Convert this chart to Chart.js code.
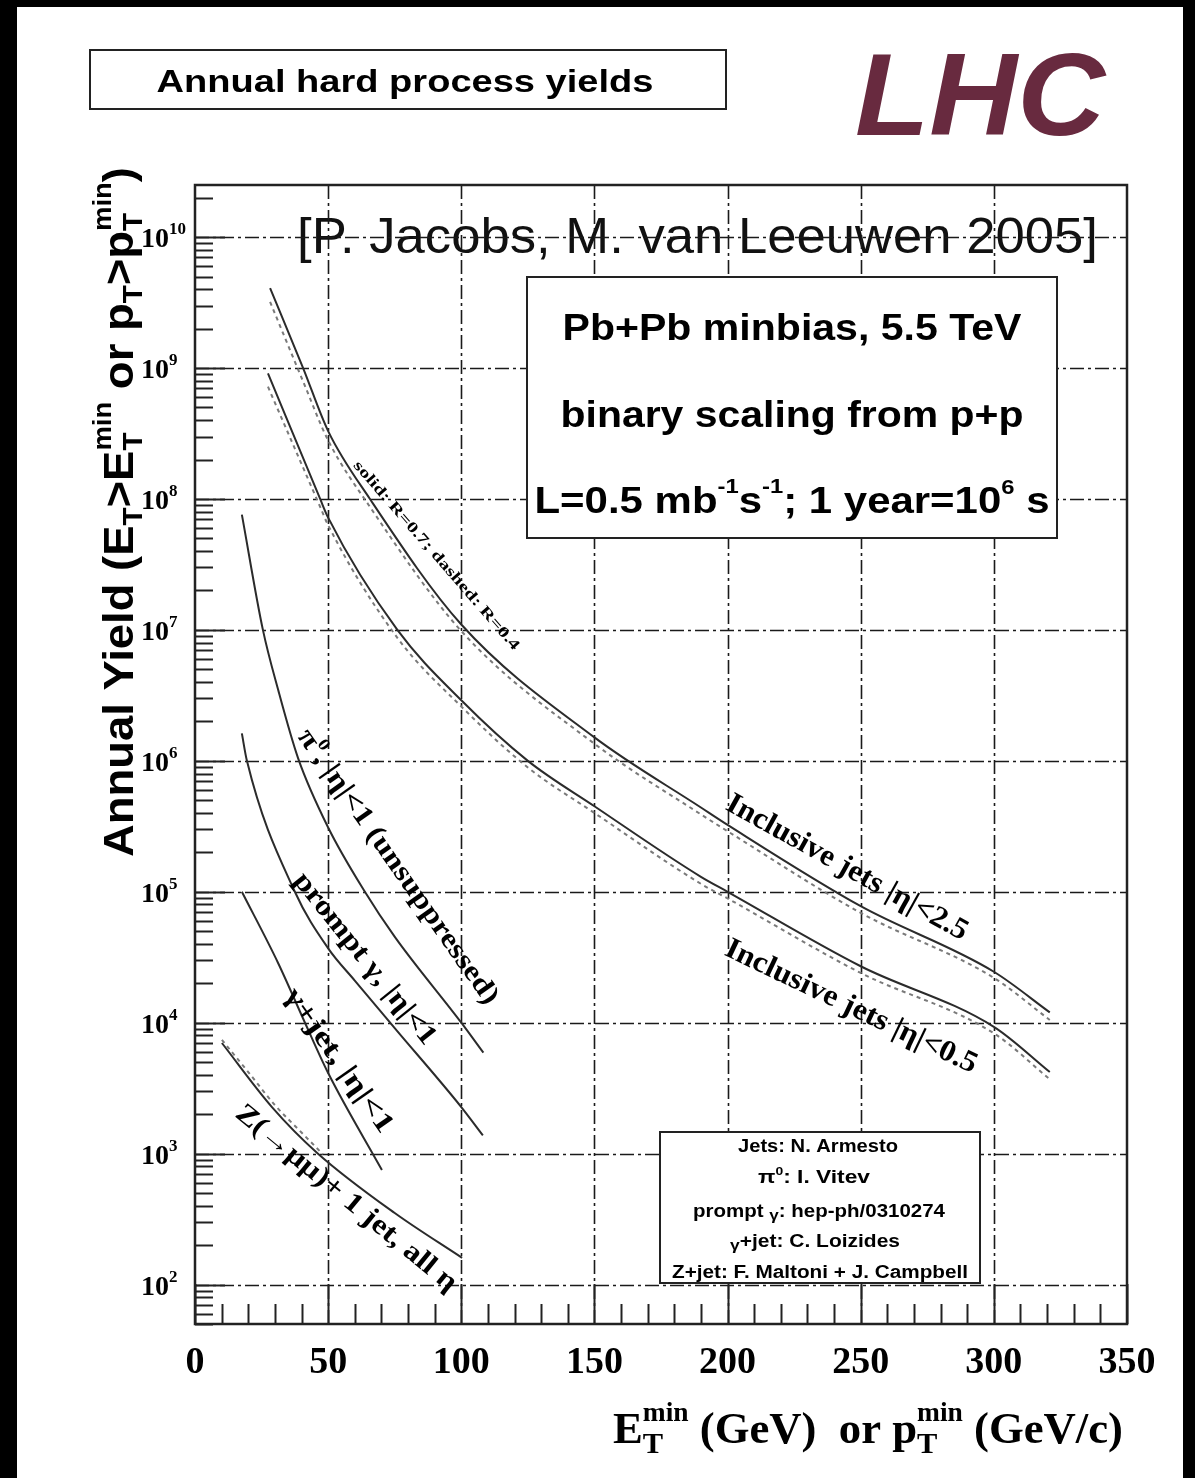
<!DOCTYPE html>
<html><head><meta charset="utf-8">
<script src="https://cdn.jsdelivr.net/npm/chart.js@4.4.1/dist/chart.umd.min.js"></script>
<style>html,body{margin:0;padding:0;background:#fff;}canvas{display:block;}</style>
</head><body>
<canvas id="c" width="1195" height="1478"></canvas>
<script>
// ---------------- data ----------------
const xTickValues = [0, 50, 100, 150, 200, 250, 300, 350];
const yDecadeExponents = [2, 3, 4, 5, 6, 7, 8, 9, 10];

// Inclusive jets |eta|<2.5
const jets25X      = [28.2, 40.6, 50, 65.7, 100, 150, 190, 200, 250, 300, 321];
const jets25R07    = [4.07e9, 1.0e9, 3.3e8, 1.0e8, 1.1e7, 1.51e6, 4.4e5, 3.24e5, 7.76e4, 2.45e4, 1.2e4];
const jets25R04    = [3.2e9, 7.9e8, 2.8e8, 8.7e7, 9.8e6, 1.35e6, 3.9e5, 2.9e5, 6.9e4, 2.2e4, 1.05e4];
// Inclusive jets |eta|<0.5
const jets05X      = [27.4, 47, 50, 76, 100, 125, 150, 190, 200, 250, 300, 321];
const jets05R07    = [9.1e8, 1.0e8, 7.2e7, 1.0e7, 2.9e6, 1.0e6, 4.5e5, 1.3e5, 1.0e5, 2.7e4, 9.3e3, 4.2e3];
const jets05R04    = [7.2e8, 8.7e7, 6.3e7, 8.7e6, 2.6e6, 8.9e5, 4.0e5, 1.15e5, 8.9e4, 2.4e4, 8.3e3, 3.7e3];
// pi0 |eta|<1 (unsuppressed)
const pi0X         = [17.6, 25.5, 31.2, 38.7, 50, 63.8, 75.1, 100, 108.3];
const pi0Y         = [7.6e7, 1.0e7, 3.5e6, 1.05e6, 3.1e5, 1.0e5, 4.5e4, 1.0e4, 5.9e3];
// prompt photon |eta|<1
const promptX      = [17.6, 19.5, 37.5, 50, 60, 75, 100, 108.1];
const promptY      = [1.62e6, 1.0e6, 1.0e5, 3.7e4, 2.1e4, 9.1e3, 2.27e3, 1.38e3];
// gamma + jet |eta|<1
const gjetX        = [17.6, 31.2, 41.3, 50, 70.2];
const gjetY        = [1.0e5, 2.86e4, 1.0e4, 4.13e3, 750];
// Z(->mumu) + 1 jet, all eta
const zjetX        = [10.1, 28.9, 46.2, 75, 100.3];
const zjetY        = [7.0e3, 2.27e3, 1.0e3, 352, 160];
const zjetAltX     = [10.1, 20, 30, 40, 48];
const zjetAltY     = [7.4e3, 4.2e3, 2.35e3, 1.45e3, 990];

// ---------------- helpers ----------------
const SANS = '"Liberation Sans", Arial, Helvetica, sans-serif';
const SERIF = '"Liberation Serif", "Times New Roman", Times, serif';

function drawRich(ctx, segs, x, y, o = {}) {
  const align = o.align || 'left', angle = o.angle || 0;
  ctx.save();
  ctx.translate(x, y);
  if (angle) ctx.rotate(angle);
  const items = segs.map(s => {
    if (s.stack) {
      const ws = s.stack.map(p => { ctx.font = p.f; return ctx.measureText(p.t).width; });
      return { w: Math.max(...ws) };
    }
    ctx.font = s.f;
    return { w: ctx.measureText(s.t).width };
  });
  const total = items.reduce((a, b) => a + b.w, 0);
  const sx = o.width ? o.width / total : 1;
  ctx.scale(sx, 1);
  let cx = align === 'left' ? 0 : (align === 'center' ? -total / 2 : -total);
  const dy0 = o.dy || 0;
  ctx.textAlign = 'left';
  ctx.textBaseline = 'alphabetic';
  ctx.fillStyle = o.color || '#000';
  segs.forEach((s, i) => {
    if (s.stack) {
      s.stack.forEach(p => { ctx.font = p.f; ctx.fillText(p.t, cx, (p.dy || 0) + dy0); });
    } else {
      ctx.font = s.f;
      ctx.fillText(s.t, cx, (s.dy || 0) + dy0);
    }
    cx += items[i].w;
  });
  ctx.restore();
}
function line(ctx, x1, y1, x2, y2) { ctx.beginPath(); ctx.moveTo(x1, y1); ctx.lineTo(x2, y2); ctx.stroke(); }

function series(xArr, yArr, dashed) {
  return {
    data: xArr.map((x, i) => ({ x: x, y: yArr[i] })),
    showLine: true, pointRadius: 0, fill: false,
    borderColor: dashed ? '#7a7a7a' : '#2b2b2b',
    borderWidth: 2,
    borderDash: dashed ? [4, 4] : [],
    cubicInterpolationMode: 'monotone'
  };
}

const decor = {
  id: 'decor',
  beforeDraw(chart) {
    const ctx = chart.ctx;
    ctx.save();
    ctx.fillStyle = '#000';
    ctx.fillRect(0, 0, chart.width, chart.height);
    ctx.fillStyle = '#fff';
    ctx.fillRect(17, 7, chart.width - 17 - 12, chart.height - 7);
    ctx.restore();
  },
  beforeDatasetsDraw(chart) {
    const ctx = chart.ctx, a = chart.chartArea, xs = chart.scales.x, ys = chart.scales.y;
    drawRich(ctx, [{ t: '[P. Jacobs, M. van Leeuwen 2005]', f: `50px ${SANS}` }], 297, 253, { width: 801, color: '#111' });
    ctx.save();
    ctx.beginPath(); ctx.rect(a.left, a.top, a.right - a.left, a.bottom - a.top); ctx.clip();
    ctx.strokeStyle = '#1a1a1a'; ctx.lineWidth = 1.6; ctx.setLineDash([14, 4, 3, 4]);
    xTickValues.forEach(v => {
      if (v <= xs.min || v >= xs.max) return;
      const px = Math.round(xs.getPixelForValue(v)) + 0.5;
      line(ctx, px, a.bottom, px, a.top);
    });
    yDecadeExponents.forEach(d => {
      const py = Math.round(ys.getPixelForValue(Math.pow(10, d))) + 0.5;
      line(ctx, a.left, py, a.right, py);
    });
    ctx.restore();
    ctx.save();
    ctx.strokeStyle = '#222'; ctx.lineWidth = 2; ctx.setLineDash([]);
    for (let v = xs.min; v <= xs.max; v += 10) {
      const px = Math.round(xs.getPixelForValue(v)) + 0.5;
      const major = (v % 50 === 0);
      line(ctx, px, a.bottom, px, a.bottom - (major ? 40 : 20));
    }
    for (let d = 1; d <= 10; d++) {
      for (let m = 1; m <= 9; m++) {
        const v = m * Math.pow(10, d);
        if (v < ys.min || v > ys.max) continue;
        const py = Math.round(ys.getPixelForValue(v)) + 0.5;
        line(ctx, a.left, py, a.left + (m === 1 ? 30 : 18), py);
      }
    }
    ctx.restore();
  },
  afterDatasetsDraw(chart) {
    const ctx = chart.ctx, a = chart.chartArea, xs = chart.scales.x, ys = chart.scales.y;
    ctx.save();
    ctx.strokeStyle = '#222'; ctx.lineWidth = 2.5;
    ctx.strokeRect(a.left, a.top, a.right - a.left, a.bottom - a.top);
    ctx.restore();

    const B = s => `bold ${s}px ${SERIF}`;
    const deg = Math.PI / 180;
    drawRich(ctx, [{ t: 'solid: R=0.7; dashed: R=0.4', f: B(15) }], 437, 555, { align: 'center', angle: 49 * deg, width: 245, dy: 5 });
    drawRich(ctx, [{ t: 'Inclusive jets |η|<2.5', f: B(30) }], 848, 866, { align: 'center', angle: 29 * deg, width: 272, dy: 10 });
    drawRich(ctx, [{ t: 'Inclusive jets |η|<0.5', f: B(30) }], 852, 1005, { align: 'center', angle: 25.5 * deg, width: 276, dy: 10 });
    drawRich(ctx, [{ t: 'π', f: B(28) }, { t: '0', f: B(17), dy: -12 }, { t: ', |η|<1 (unsuppressed)', f: B(28) }], 399, 866, { align: 'center', angle: 54.9 * deg, width: 330, dy: 9 });
    drawRich(ctx, [{ t: 'prompt γ, |η|<1', f: B(28) }], 366, 958, { align: 'center', angle: 51.4 * deg, width: 212, dy: 9 });
    drawRich(ctx, [{ t: 'γ+jet, |η|<1', f: B(28) }], 340, 1060, { align: 'center', angle: 55 * deg, width: 170, dy: 9 });
    drawRich(ctx, [{ t: 'Z(→μμ)+ 1 jet, all η', f: B(28) }], 347, 1197, { align: 'center', angle: 39.4 * deg, width: 278, dy: 9 });

    ctx.save();
    ctx.fillStyle = '#fff'; ctx.fillRect(527, 277, 530, 261);
    ctx.strokeStyle = '#222'; ctx.lineWidth = 2; ctx.strokeRect(527, 277, 530, 261);
    ctx.restore();
    const S = s => `bold ${s}px ${SANS}`;
    drawRich(ctx, [{ t: 'Pb+Pb minbias, 5.5 TeV', f: S(37) }], 792, 340, { align: 'center', width: 459 });
    drawRich(ctx, [{ t: 'binary scaling from p+p', f: S(37) }], 792, 427, { align: 'center', width: 463 });
    drawRich(ctx, [{ t: 'L=0.5 mb', f: S(37) }, { t: '-1', f: S(21), dy: -20 }, { t: 's', f: S(37) }, { t: '-1', f: S(21), dy: -20 },
                   { t: '; 1 year=10', f: S(37) }, { t: '6', f: S(21), dy: -19 }, { t: ' s', f: S(37) }], 792, 513, { align: 'center', width: 515 });

    ctx.save();
    ctx.fillStyle = '#fff'; ctx.fillRect(660, 1132, 320, 151);
    ctx.strokeStyle = '#222'; ctx.lineWidth = 2; ctx.strokeRect(660, 1132, 320, 151);
    ctx.restore();
    drawRich(ctx, [{ t: 'Jets: N. Armesto', f: S(18) }], 818, 1152, { align: 'center', width: 160 });
    drawRich(ctx, [{ t: 'π', f: S(18) }, { t: '0', f: S(11), dy: -8 }, { t: ': I. Vitev', f: S(18) }], 814, 1183, { align: 'center', width: 112 });
    drawRich(ctx, [{ t: 'prompt ', f: S(18) }, { t: 'γ', f: S(15), dy: 3 }, { t: ': hep-ph/0310274', f: S(18) }], 819, 1217, { align: 'center', width: 252 });
    drawRich(ctx, [{ t: 'γ', f: S(15), dy: 3 }, { t: '+jet: C. Loizides', f: S(18) }], 815, 1247, { align: 'center', width: 170 });
    drawRich(ctx, [{ t: 'Z+jet: F. Maltoni + J. Campbell', f: S(18) }], 820, 1278, { align: 'center', width: 296 });

    yDecadeExponents.forEach(d => {
      const py = ys.getPixelForValue(Math.pow(10, d));
      drawRich(ctx, [{ t: '10', f: B(28) }, { t: String(d), f: B(17), dy: -13 }], 141, py + 10);
    });
    xTickValues.forEach(v => {
      const px = xs.getPixelForValue(v);
      drawRich(ctx, [{ t: String(v), f: B(38) }], px, 1373, { align: 'center' });
    });
    drawRich(ctx, [
      { t: 'E', f: B(44) },
      { stack: [{ t: 'T', f: B(30), dy: 10 }, { t: 'min', f: B(27), dy: -22 }] },
      { t: ' (GeV)  or p', f: B(44) },
      { stack: [{ t: 'T', f: B(30), dy: 10 }, { t: 'min', f: B(27), dy: -22 }] },
      { t: ' (GeV/c)', f: B(44) }
    ], 1123, 1443, { align: 'right', width: 510 });
    drawRich(ctx, [
      { t: 'Annual Yield (E', f: S(43) },
      { stack: [{ t: 'T', f: S(28), dy: 9 }] },
      { t: '>E', f: S(43) },
      { stack: [{ t: 'T', f: S(28), dy: 9 }, { t: 'min', f: S(26), dy: -22 }] },
      { t: ' or p', f: S(43) },
      { stack: [{ t: 'T', f: S(28), dy: 9 }] },
      { t: '>p', f: S(43) },
      { stack: [{ t: 'T', f: S(28), dy: 9 }, { t: 'min', f: S(26), dy: -22 }] },
      { t: ')', f: S(43) }
    ], 133, 857, { angle: -Math.PI / 2, width: 690 });

    ctx.save();
    ctx.strokeStyle = '#222'; ctx.lineWidth = 2; ctx.strokeRect(90, 50, 636, 59);
    ctx.restore();
    drawRich(ctx, [{ t: 'Annual hard process yields', f: S(31) }], 405, 92, { align: 'center', width: 497 });
    drawRich(ctx, [{ t: 'LHC', f: `italic bold 116px ${SANS}` }], 855, 135, { width: 250, color: '#682a3f' });
  }
};

new Chart(document.getElementById('c'), {
  type: 'scatter',
  data: {
    datasets: [
      series(jets25X, jets25R04, true),
      series(jets25X, jets25R07, false),
      series(jets05X, jets05R04, true),
      series(jets05X, jets05R07, false),
      series(pi0X, pi0Y, false),
      series(promptX, promptY, false),
      series(gjetX, gjetY, false),
      series(zjetAltX, zjetAltY, true),
      series(zjetX, zjetY, false)
    ]
  },
  options: {
    responsive: false, animation: false, devicePixelRatio: 1, events: [],
    layout: { padding: { left: 195, top: 185, right: 68, bottom: 154 } },
    plugins: { legend: { display: false }, tooltip: { enabled: false } },
    scales: {
      x: { type: 'linear', min: 0, max: 350, display: false },
      y: { type: 'logarithmic', min: 50, max: 2.5e10, display: false }
    }
  },
  plugins: [decor]
});
</script>
</body></html>
